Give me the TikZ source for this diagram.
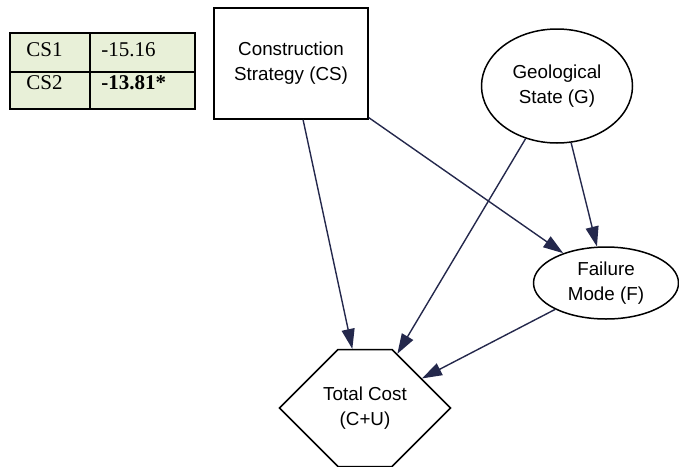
\documentclass[tikz,border=0pt]{standalone}
\usepackage{fontspec}
\setmainfont{Liberation Serif}
\setsansfont{Liberation Sans}
\usepackage{tikz}
\usetikzlibrary{matrix, positioning, shapes.geometric, shapes.symbols, arrows.meta}
\definecolor{tablegreen}{RGB}{232,240,216}
\definecolor{edgeblue}{RGB}{36,40,76}

\tikzset{
  varnode/.style={draw, line width=0.75pt, align=center, inner sep=0pt,
                  font=\sffamily\fontsize{9.4}{12.5}\selectfont},
  decision/.style={varnode, rectangle, minimum width=77pt, minimum height=55.5pt},
  chance/.style={varnode, ellipse},
  utility/.style={varnode, signal, signal to=west and east, signal pointer angle=90,
                  minimum width=85.5pt, minimum height=58.5pt},
  link/.style={edgeblue, line width=0.7pt, -{Triangle[length=10pt,width=6.5pt]}},
}

\begin{document}
\begin{tikzpicture}[x=0.5pt, y=-0.5pt]
\useasboundingbox (0,0) rectangle (679,466);

% expected utility of each strategy
\matrix (eu) [matrix of nodes, anchor=north west, inner sep=0pt,
         column sep=-1pt, row sep=-1pt,
         nodes={draw, line width=1pt, fill=tablegreen, inner ysep=0pt,
                align=left, font=\fontsize{10.5}{12}\selectfont},
         column 1/.style={nodes={inner xsep=8pt, text width=24pt}},
         column 2/.style={nodes={inner xsep=5.5pt, text width=41.5pt}},
         row 1/.style={nodes={text height=11.5pt, text depth=8pt}},
         row 2/.style={nodes={text height=8.5pt, text depth=10pt}}]
  at (9,32)
{
|(cs1)| CS1 & |(u1)| -15.16 \\
|(cs2)| CS2 & |(u2)| \textbf{-13.81*} \\
};

% influence diagram
\node[decision] (cs) at (291,63.5) {Construction\\Strategy (CS)};
\node[chance, minimum width=75.5pt, minimum height=57pt] (g) at (557,86) {Geological\\State (G)};
\node[chance, minimum width=72.5pt, minimum height=36pt] (f) at (606,283) {Failure\\Mode (F)};
\node[utility] (tc) at (365,408) {};
\node[varnode, draw=none] (tclabel) at (tc) {Total Cost\\(C+U)};

\draw[link] (cs) -- (tc);
\draw[link] (cs) -- (f);
\draw[link] (g) -- (tc);
\draw[link] (g) -- (f);
\draw[link] (f) -- (tc);
\end{tikzpicture}
\end{document}
